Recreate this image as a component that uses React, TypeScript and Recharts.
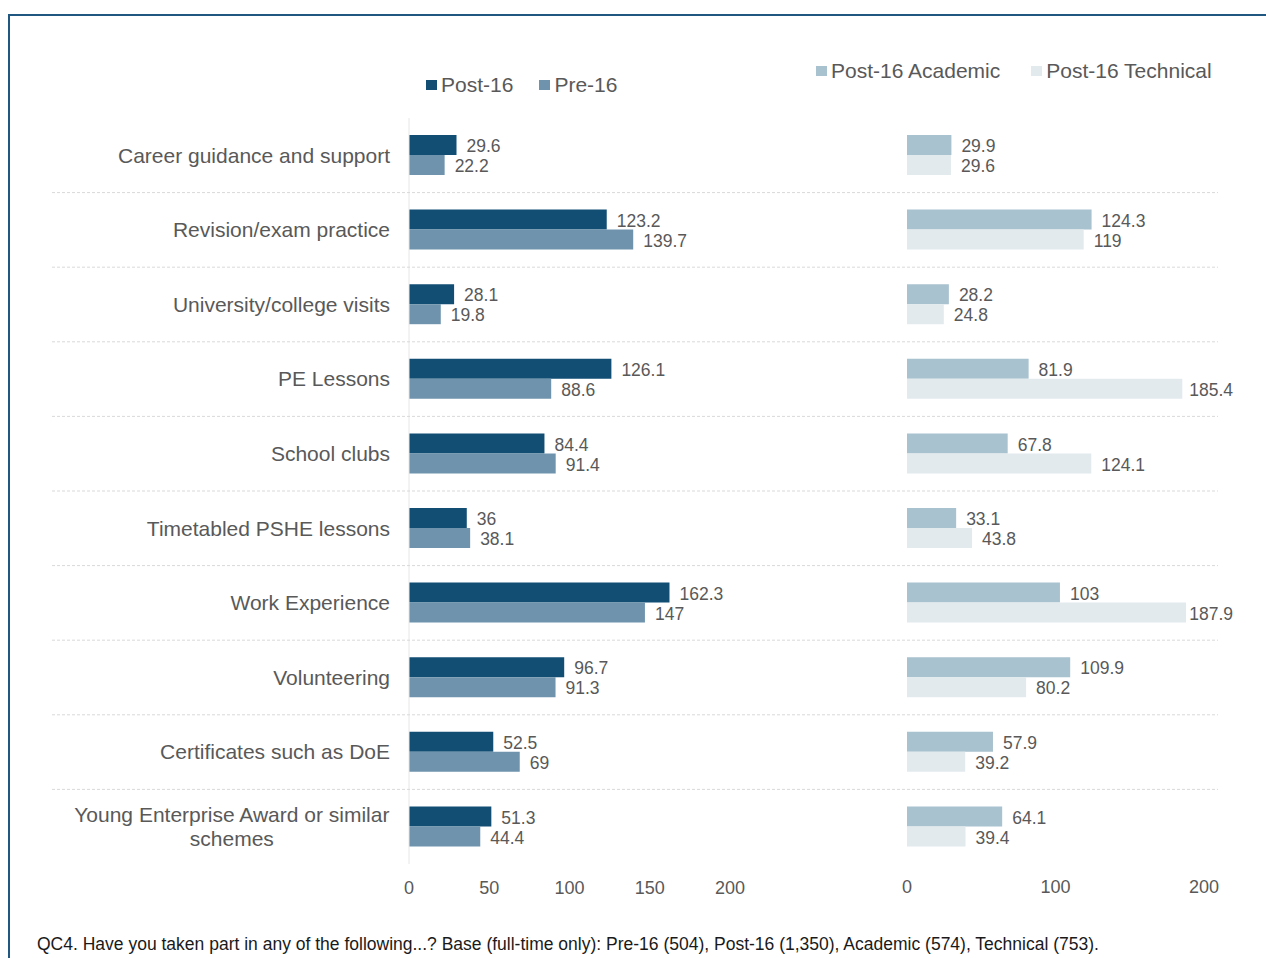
import React from 'react';
import { BarChart, Bar, XAxis, YAxis, LabelList } from 'recharts';

const categories = [
  'Career guidance and support',
  'Revision/exam practice',
  'University/college visits',
  'PE Lessons',
  'School clubs',
  'Timetabled PSHE lessons',
  'Work Experience',
  'Volunteering',
  'Certificates such as DoE',
  'Young Enterprise Award or similar schemes',
];
const post16 = [29.6, 123.2, 28.1, 126.1, 84.4, 36, 162.3, 96.7, 52.5, 51.3];
const pre16 = [22.2, 139.7, 19.8, 88.6, 91.4, 38.1, 147, 91.3, 69, 44.4];
const academic = [29.9, 124.3, 28.2, 81.9, 67.8, 33.1, 103, 109.9, 57.9, 64.1];
const technical = [29.6, 119, 24.8, 185.4, 124.1, 43.8, 187.9, 80.2, 39.2, 39.4];

const leftTicks = [0, 50, 100, 150, 200];
const rightTicks = [0, 100, 200];

const leftSeries = [
  { key: 'post16', name: 'Post-16', color: '#124e74' },
  { key: 'pre16', name: 'Pre-16', color: '#6f93ad' },
];
const rightSeries = [
  { key: 'academic', name: 'Post-16 Academic', color: '#a9c2cf' },
  { key: 'technical', name: 'Post-16 Technical', color: '#e2eaee' },
];

const FONT = '"Liberation Sans", Arial, sans-serif';
const GREY = '#595959';
const LABEL_SIZE = 17.5;

const data = categories.map((name, i) => ({
  name,
  post16: post16[i],
  pre16: pre16[i],
  academic: academic[i],
  technical: technical[i],
}));

// measure text so wrapped labels can be centred and data labels kept inside the frame
let ctx: CanvasRenderingContext2D | null = null;
const measure = (s: string, size: number) => {
  if (!ctx) ctx = document.createElement('canvas').getContext('2d');
  if (!ctx) return s.length * size * 0.5;
  ctx.font = `${size}px "Liberation Sans"`;
  return ctx.measureText(s).width;
};

const wrap = (s: string, size: number, maxW: number) => {
  const words = s.split(' ');
  const lines: string[] = [];
  let cur = '';
  words.forEach((w) => {
    const t = cur ? cur + ' ' + w : w;
    if (cur && measure(t, size) > maxW) {
      lines.push(cur);
      cur = w;
    } else cur = t;
  });
  if (cur) lines.push(cur);
  return lines;
};

const CategoryTick = (props: any) => {
  const { x, y, payload, index } = props;
  const size = 21;
  const lines = wrap(payload.value, size, 340);
  const blockW = Math.max(...lines.map((l) => measure(l, size)));
  const half = payload.offset || (864 - 118) / categories.length / 2;
  return (
    <g>
      {index < categories.length - 1 && (
        <line x1={52} x2={1218} y1={y + half} y2={y + half} stroke="#d9d9d9" strokeDasharray="3 2" />
      )}
      {lines.map((l, i) => (
        <text
          key={i}
          x={lines.length > 1 ? x - blockW / 2 : x}
          y={y + (i - (lines.length - 1) / 2) * 24}
          dy="0.35em"
          textAnchor={lines.length > 1 ? 'middle' : 'end'}
          fill={GREY}
          fontSize={size}
        >
          {l}
        </text>
      ))}
    </g>
  );
};

// value label to the right of the bar, pulled back if it would run past the frame
const makeValueLabel = (maxRight: number) => (props: any) => {
  const { x, y, width, height, value } = props;
  const txt = String(value);
  const w = measure(txt, LABEL_SIZE);
  const lx = Math.min(Number(x) + Number(width) + 10, maxRight - w);
  return (
    <text x={lx} y={Number(y) + Number(height) / 2 + 1} dy="0.35em" fill={GREY} fontSize={LABEL_SIZE}>
      {txt}
    </text>
  );
};

const LegendBox = ({ items, left, top, gap }: { items: { name: string; color: string }[]; left: number; top: number; gap: number }) => (
  <div style={{ position: 'absolute', left, top, display: 'flex', fontSize: 21, color: GREY, lineHeight: '24px' }}>
    {items.map((it, i) => (
      <div key={it.name} style={{ display: 'flex', alignItems: 'center', marginRight: i < items.length - 1 ? gap : 0 }}>
        <span style={{ width: 11, height: 10, background: it.color, marginRight: 4, display: 'inline-block' }} />
        {it.name}
      </div>
    ))}
  </div>
);

const axisTick = { fill: GREY, fontSize: 18 };

export default function App() {
  return (
    <div style={{ position: 'absolute', left: 0, top: 0, width: 1266, height: 958, background: '#fff', fontFamily: FONT, overflow: 'hidden' }}>
      <div style={{ position: 'absolute', left: 8, top: 14, width: 1258, height: 944, borderTop: '2px solid #1f5780', borderLeft: '2px solid #1f5780' }} />

      <div style={{ position: 'absolute', left: 0, top: 0 }}>
        <BarChart width={1266} height={958} data={data} layout="vertical" barGap={0} margin={{ top: 118, right: 536, bottom: 64, left: 0 }}>
          <XAxis type="number" domain={[0, 200]} ticks={leftTicks} axisLine={false} tickLine={false} tickSize={0} tickMargin={17} tick={axisTick} height={30} />
          <YAxis type="category" dataKey="name" width={409} axisLine={{ stroke: '#e6e6e6' }} tickLine={false} tickSize={0} tickMargin={19} tick={<CategoryTick />} interval={0} />
          {leftSeries.map((s) => (
            <Bar key={s.key} dataKey={s.key} name={s.name} fill={s.color} barSize={20} isAnimationActive={false}>
              <LabelList dataKey={s.key} content={makeValueLabel(1233)} />
            </Bar>
          ))}
        </BarChart>
      </div>

      <div style={{ position: 'absolute', left: 0, top: 0 }}>
        <BarChart width={1266} height={958} data={data} layout="vertical" barGap={0} margin={{ top: 118, right: 62, bottom: 64, left: 907 }}>
          <XAxis type="number" domain={[0, 200]} ticks={rightTicks} axisLine={false} tickLine={false} tickSize={0} tickMargin={16} tick={axisTick} height={30} />
          <YAxis type="category" dataKey="name" hide />
          {rightSeries.map((s) => (
            <Bar key={s.key} dataKey={s.key} name={s.name} fill={s.color} barSize={20} isAnimationActive={false}>
              <LabelList dataKey={s.key} content={makeValueLabel(1233)} />
            </Bar>
          ))}
        </BarChart>
      </div>

      <LegendBox items={leftSeries} left={426} top={73} gap={26} />
      <LegendBox items={rightSeries} left={816} top={59} gap={31} />

      <div style={{ position: 'absolute', left: 37, top: 934, fontSize: 17.5, color: '#1a1a1a', whiteSpace: 'nowrap', lineHeight: '20px' }}>
        QC4. Have you taken part in any of the following...? Base (full-time only): Pre-16 (504), Post-16 (1,350), Academic (574), Technical (753).
      </div>
    </div>
  );
}
